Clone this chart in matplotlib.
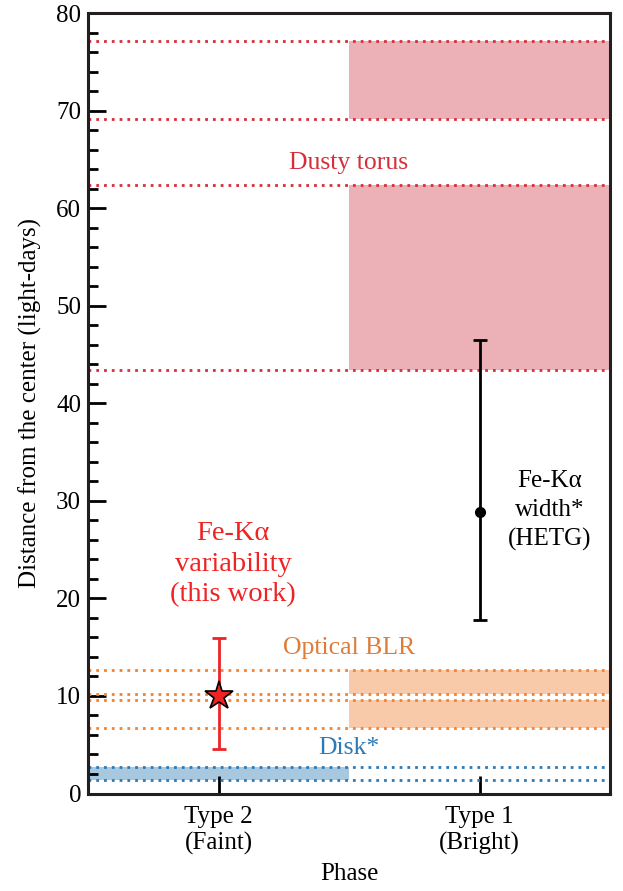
import matplotlib
matplotlib.use("Agg")
import matplotlib.pyplot as plt
from matplotlib.ticker import MultipleLocator

plt.rcParams['font.family'] = ['Liberation Serif', 'DejaVu Serif']
plt.rcParams['mathtext.fontset'] = 'stix'

# phases on the x axis
phases = ["Type 2\n(Faint)", "Type 1\n(Bright)"]

# region boundaries (light-days)
torus_bands = [(69.1, 77.1), (43.4, 62.4)]
blr_bands = [(10.2, 12.7), (6.7, 9.6)]
disk_band = (1.4, 2.7)

# Fe-Ka variability (Type 2) and Fe-Ka width (Type 1)
var_val, var_lo, var_hi = 10.0, 4.6, 15.9
width_val, width_lo, width_hi = 28.9, 17.8, 46.5

red_line, red_fill = "#d62f3c", "#ebb1b6"
org_line, org_fill = "#f5822e", "#f9caaa"
blu_line, blu_fill = "#2e7ab5", "#a8c8e0"

fig = plt.figure(figsize=(6.23, 8.91), dpi=100)
ax = fig.add_axes([0.1413, 0.1094, 0.8379, 0.876])

ax.set_xlim(-0.5, 1.5)
ax.set_ylim(0, 80)

dots = (0, (1, 1.8))
lw = 2.0

# dusty torus: shaded on the Type 1 side only
for lo, hi in torus_bands:
    ax.fill_between([0.5, 1.5], lo, hi, color=red_fill, lw=0, zorder=1)
    for v in (lo, hi):
        ax.axhline(v, color=red_line, ls=dots, lw=lw, zorder=2)

# optical BLR
for lo, hi in blr_bands:
    ax.fill_between([0.5, 1.5], lo, hi, color=org_fill, lw=0, zorder=1)
    for v in (lo, hi):
        ax.axhline(v, color=org_line, ls=dots, lw=lw, zorder=2)

# disk: shaded on the Type 2 side
ax.fill_between([-0.5, 0.5], disk_band[0], disk_band[1], color=blu_fill, lw=0, zorder=1)
for v in disk_band:
    ax.axhline(v, color=blu_line, ls=dots, lw=lw, zorder=2)

ax.text(0.5, 64.6, "Dusty torus", color=red_line, fontsize=18.5,
        ha="center", va="center")
ax.text(0.5, 14.9, "Optical BLR", color="#e07c38", fontsize=18.5,
        ha="center", va="center")
ax.text(0.5, 4.7, "Disk*", color=blu_line, fontsize=18.5,
        ha="center", va="center")

# measurements
ax.errorbar(0, var_val, yerr=[[var_val - var_lo], [var_hi - var_val]],
            fmt="none", ecolor="#ee2424", elinewidth=2.0, capsize=5, capthick=2.0, zorder=4)
ax.plot(0, var_val, marker="*", ms=21, mfc="#ee2424", mec="black", mew=1.2, zorder=5)

ax.errorbar(1, width_val, yerr=[[width_val - width_lo], [width_hi - width_val]],
            fmt="o", color="black", ms=7, elinewidth=2.0, capsize=5, capthick=2.0, zorder=4)

ax.text(0.056, 23.5, "Fe-K\u03b1\nvariability\n(this work)", color="#ee2424",
        fontsize=20.5, ha="center", va="center", linespacing=1.3)
ax.text(1.27, 29.0, "Fe-K\u03b1\nwidth*\n(HETG)", color="black",
        fontsize=18, ha="center", va="center", linespacing=1.4)

ax.set_xticks([0, 1])
ax.set_xticklabels(phases)
ax.yaxis.set_major_locator(MultipleLocator(10))
ax.yaxis.set_minor_locator(MultipleLocator(2))
ax.tick_params(axis="both", which="major", direction="in", length=13, width=2,
               labelsize=18, pad=5, top=False, right=False)
ax.tick_params(axis="y", which="minor", direction="in", length=7, width=2,
               right=False)
ax.tick_params(axis="x", which="major", pad=9)

ax.set_xlabel("Phase", fontsize=18, labelpad=6)
ax.set_ylabel("Distance from the center (light-days)", fontsize=18, labelpad=10)

for s in ax.spines.values():
    s.set_linewidth(2.2)
    s.set_color("#231f20")

fig.savefig("out.png", dpi=100)
